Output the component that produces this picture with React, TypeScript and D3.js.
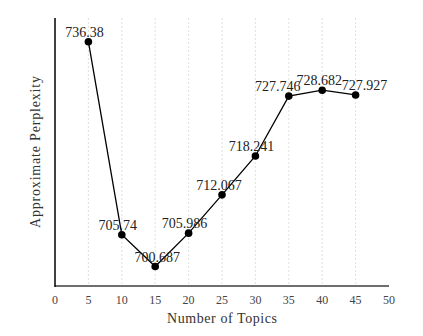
import React from "react";
import * as d3 from "d3";

const topics = [5, 10, 15, 20, 25, 30, 35, 40, 45];
const perplexity = [736.38, 705.74, 700.687, 705.986, 712.067, 718.241, 727.746, 728.682, 727.927];
const valueLabels = ["736.38", "705.74", "700.687", "705.986", "712.067", "718.241", "727.746", "728.682", "727.927"];
const xTicks = [0, 5, 10, 15, 20, 25, 30, 35, 40, 45, 50];
const gridTicks = [5, 10, 15, 20, 25, 30, 35, 40, 45];
// layout nudges for the value labels (pixels)
const labelDx = [-4, -4, 2, -4, -3, -4, -11, -3, 9];

const W = 423, H = 336;
const left = 55, right = 389, top = 18, bottom = 286;
const FONT = "'Liberation Serif', 'DejaVu Serif', serif";

export default function App() {
  const x = d3.scaleLinear().domain([0, 50]).range([left, right]);
  const y = d3.scaleLinear().domain([697.6, 740.14]).range([bottom, top]);
  const line = d3.line<number>().x((_, i) => x(topics[i])).y((d) => y(d));
  return (
    <svg width={W} height={H} style={{ position: "absolute", left: 0, top: 0, background: "#fff" }}>
      {gridTicks.map((t) => (
        <line key={t} x1={x(t)} x2={x(t)} y1={top} y2={bottom} stroke="#d8d8d8" strokeWidth={0.8} strokeDasharray="2,2" />
      ))}
      <line x1={left} x2={right} y1={bottom} y2={bottom} stroke="#6e6e6e" strokeWidth={2} />
      <line x1={left} x2={left} y1={top} y2={bottom + 1} stroke="#000" strokeWidth={1.5} />
      {xTicks.map((t) => (
        <text key={t} x={x(t)} y={304} textAnchor="middle" fontFamily={FONT} fontSize={12} fill="#444">{t}</text>
      ))}
      <text x={222} y={323} textAnchor="middle" fontFamily={FONT} fontSize={14} fill="#333" textLength={110} lengthAdjust="spacing">Number of Topics</text>
      <text transform={`translate(40,152) rotate(-90)`} textAnchor="middle" fontFamily={FONT} fontSize={14} fill="#333" textLength={152} lengthAdjust="spacing">Approximate Perplexity</text>
      <path d={line(perplexity) || ""} fill="none" stroke="#000" strokeWidth={1.3} />
      {perplexity.map((v, i) => (
        <circle key={i} cx={x(topics[i])} cy={y(v)} r={3.8} fill="#000" />
      ))}
      {perplexity.map((v, i) => (
        <text key={i} x={x(topics[i]) + labelDx[i]} y={y(v) - 5} textAnchor="middle" fontFamily={FONT} fontSize={14} fill="#222">{valueLabels[i]}</text>
      ))}
    </svg>
  );
}
